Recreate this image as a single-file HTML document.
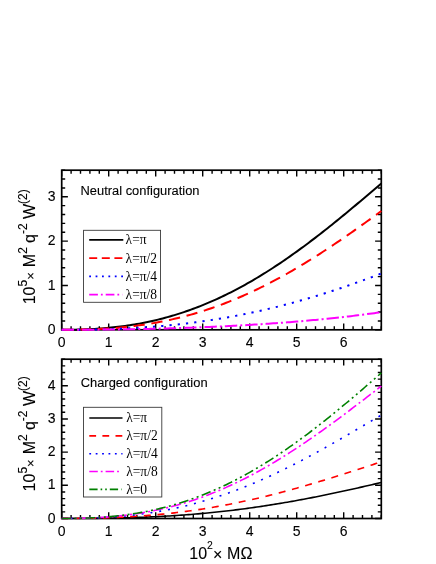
<!DOCTYPE html>
<html><head><meta charset="utf-8"><title>chart</title>
<style>
html,body{margin:0;padding:0;background:#fff;}
body{width:436px;height:564px;position:relative;overflow:hidden;font-family:"Liberation Sans",sans-serif;}
svg text{font-family:"Liberation Sans",sans-serif;fill:#000;}
svg text.tl{font-size:14px;stroke:#000;stroke-width:0.1px;}
svg text.ttl{font-size:13.3px;stroke:#000;stroke-width:0.12px;}
svg text.al{font-size:16px;stroke:#000;stroke-width:0.1px;}
svg text.lg{font-family:"Liberation Serif",serif;font-size:14px;}
</style></head><body>
<svg width="436" height="564" viewBox="0 0 436 564" style="position:absolute;left:0;top:0;will-change:transform">
<defs><clipPath id="c0"><rect x="60.80" y="169.30" width="321.40" height="161.60"/></clipPath></defs>
<path d="M61.70 329.80v-6.20M61.70 170.20v6.20M71.10 329.80v-3.50M71.10 170.20v3.50M80.50 329.80v-3.50M80.50 170.20v3.50M89.90 329.80v-3.50M89.90 170.20v3.50M99.30 329.80v-3.50M99.30 170.20v3.50M108.70 329.80v-6.20M108.70 170.20v6.20M118.10 329.80v-3.50M118.10 170.20v3.50M127.50 329.80v-3.50M127.50 170.20v3.50M136.90 329.80v-3.50M136.90 170.20v3.50M146.30 329.80v-3.50M146.30 170.20v3.50M155.70 329.80v-6.20M155.70 170.20v6.20M165.10 329.80v-3.50M165.10 170.20v3.50M174.50 329.80v-3.50M174.50 170.20v3.50M183.90 329.80v-3.50M183.90 170.20v3.50M193.30 329.80v-3.50M193.30 170.20v3.50M202.70 329.80v-6.20M202.70 170.20v6.20M212.10 329.80v-3.50M212.10 170.20v3.50M221.50 329.80v-3.50M221.50 170.20v3.50M230.90 329.80v-3.50M230.90 170.20v3.50M240.30 329.80v-3.50M240.30 170.20v3.50M249.70 329.80v-6.20M249.70 170.20v6.20M259.10 329.80v-3.50M259.10 170.20v3.50M268.50 329.80v-3.50M268.50 170.20v3.50M277.90 329.80v-3.50M277.90 170.20v3.50M287.30 329.80v-3.50M287.30 170.20v3.50M296.70 329.80v-6.20M296.70 170.20v6.20M306.10 329.80v-3.50M306.10 170.20v3.50M315.50 329.80v-3.50M315.50 170.20v3.50M324.90 329.80v-3.50M324.90 170.20v3.50M334.30 329.80v-3.50M334.30 170.20v3.50M343.70 329.80v-6.20M343.70 170.20v6.20M353.10 329.80v-3.50M353.10 170.20v3.50M362.50 329.80v-3.50M362.50 170.20v3.50M371.90 329.80v-3.50M371.90 170.20v3.50M381.30 329.80v-3.50M381.30 170.20v3.50M61.70 329.80h6.20M381.30 329.80h-6.20M61.70 320.93h3.50M381.30 320.93h-3.50M61.70 312.07h3.50M381.30 312.07h-3.50M61.70 303.20h3.50M381.30 303.20h-3.50M61.70 294.33h3.50M381.30 294.33h-3.50M61.70 285.47h6.20M381.30 285.47h-6.20M61.70 276.60h3.50M381.30 276.60h-3.50M61.70 267.73h3.50M381.30 267.73h-3.50M61.70 258.87h3.50M381.30 258.87h-3.50M61.70 250.00h3.50M381.30 250.00h-3.50M61.70 241.13h6.20M381.30 241.13h-6.20M61.70 232.27h3.50M381.30 232.27h-3.50M61.70 223.40h3.50M381.30 223.40h-3.50M61.70 214.53h3.50M381.30 214.53h-3.50M61.70 205.67h3.50M381.30 205.67h-3.50M61.70 196.80h6.20M381.30 196.80h-6.20M61.70 187.93h3.50M381.30 187.93h-3.50M61.70 179.07h3.50M381.30 179.07h-3.50M61.70 170.20h3.50M381.30 170.20h-3.50" stroke="#000" stroke-width="1.40" fill="none"/>
<rect x="61.70" y="170.20" width="319.60" height="159.60" fill="none" stroke="#000" stroke-width="1.70"/>
<g clip-path="url(#c0)" fill="none" stroke-linejoin="round">
<polyline points="61.70,329.80 64.05,329.80 66.40,329.78 68.75,329.77 71.10,329.74 73.45,329.70 75.80,329.65 78.15,329.60 80.50,329.53 82.85,329.45 85.20,329.37 87.55,329.27 89.90,329.16 92.25,329.03 94.60,328.90 96.95,328.75 99.30,328.59 101.65,328.42 104.00,328.23 106.35,328.03 108.70,327.81 111.05,327.59 113.40,327.34 115.75,327.08 118.10,326.81 120.45,326.52 122.80,326.21 125.15,325.89 127.50,325.56 129.85,325.20 132.20,324.83 134.55,324.44 136.90,324.04 139.25,323.62 141.60,323.18 143.95,322.72 146.30,322.25 148.65,321.76 151.00,321.24 153.35,320.72 155.70,320.17 158.05,319.60 160.40,319.02 162.75,318.41 165.10,317.79 167.45,317.15 169.80,316.48 172.15,315.80 174.50,315.10 176.85,314.38 179.20,313.64 181.55,312.88 183.90,312.10 186.25,311.30 188.60,310.48 190.95,309.64 193.30,308.78 195.65,307.90 198.00,307.00 200.35,306.08 202.70,305.14 205.05,304.18 207.40,303.20 209.75,302.20 212.10,301.18 214.45,300.14 216.80,299.08 219.15,297.99 221.50,296.89 223.85,295.77 226.20,294.63 228.55,293.47 230.90,292.28 233.25,291.08 235.60,289.86 237.95,288.62 240.30,287.36 242.65,286.08 245.00,284.78 247.35,283.46 249.70,282.12 252.05,280.77 254.40,279.39 256.75,278.00 259.10,276.58 261.45,275.15 263.80,273.70 266.15,272.23 268.50,270.75 270.85,269.24 273.20,267.72 275.55,266.18 277.90,264.63 280.25,263.05 282.60,261.46 284.95,259.86 287.30,258.24 289.65,256.60 292.00,254.94 294.35,253.27 296.70,251.59 299.05,249.89 301.40,248.17 303.75,246.44 306.10,244.70 308.45,242.94 310.80,241.17 313.15,239.38 315.50,237.59 317.85,235.78 320.20,233.95 322.55,232.12 324.90,230.27 327.25,228.41 329.60,226.54 331.95,224.66 334.30,222.77 336.65,220.87 339.00,218.96 341.35,217.04 343.70,215.12 346.05,213.18 348.40,211.24 350.75,209.28 353.10,207.33 355.45,205.36 357.80,203.39 360.15,201.41 362.50,199.43 364.85,197.44 367.20,195.45 369.55,193.45 371.90,191.45 374.25,189.45 376.60,187.44 378.95,185.43 381.30,183.43" stroke="#000000" stroke-width="2.00"/>
<polyline points="61.70,329.80 64.05,329.80 66.40,329.79 68.75,329.78 71.10,329.76 73.45,329.73 75.80,329.70 78.15,329.66 80.50,329.62 82.85,329.57 85.20,329.51 87.55,329.44 89.90,329.36 92.25,329.28 94.60,329.18 96.95,329.08 99.30,328.96 101.65,328.84 104.00,328.71 106.35,328.56 108.70,328.41 111.05,328.24 113.40,328.07 115.75,327.88 118.10,327.68 120.45,327.47 122.80,327.24 125.15,327.00 127.50,326.76 129.85,326.49 132.20,326.22 134.55,325.93 136.90,325.63 139.25,325.31 141.60,324.99 143.95,324.64 146.30,324.28 148.65,323.91 151.00,323.53 153.35,323.13 155.70,322.71 158.05,322.28 160.40,321.83 162.75,321.37 165.10,320.90 167.45,320.41 169.80,319.90 172.15,319.37 174.50,318.83 176.85,318.28 179.20,317.71 181.55,317.12 183.90,316.52 186.25,315.90 188.60,315.26 190.95,314.61 193.30,313.94 195.65,313.25 198.00,312.55 200.35,311.83 202.70,311.09 205.05,310.34 207.40,309.57 209.75,308.78 212.10,307.98 214.45,307.16 216.80,306.32 219.15,305.47 221.50,304.60 223.85,303.71 226.20,302.80 228.55,301.88 230.90,300.94 233.25,299.99 235.60,299.01 237.95,298.02 240.30,297.02 242.65,296.00 245.00,294.96 247.35,293.90 249.70,292.83 252.05,291.74 254.40,290.63 256.75,289.51 259.10,288.37 261.45,287.22 263.80,286.05 266.15,284.87 268.50,283.66 270.85,282.45 273.20,281.22 275.55,279.97 277.90,278.70 280.25,277.43 282.60,276.13 284.95,274.83 287.30,273.50 289.65,272.17 292.00,270.81 294.35,269.45 296.70,268.07 299.05,266.68 301.40,265.27 303.75,263.85 306.10,262.41 308.45,260.97 310.80,259.51 313.15,258.04 315.50,256.55 317.85,255.06 320.20,253.55 322.55,252.03 324.90,250.50 327.25,248.95 329.60,247.40 331.95,245.83 334.30,244.26 336.65,242.68 339.00,241.08 341.35,239.48 343.70,237.86 346.05,236.24 348.40,234.61 350.75,232.97 353.10,231.32 355.45,229.67 357.80,228.00 360.15,226.33 362.50,224.66 364.85,222.97 367.20,221.29 369.55,219.59 371.90,217.89 374.25,216.18 376.60,214.47 378.95,212.76 381.30,211.04" stroke="#ff0000" stroke-width="2.00" stroke-dasharray="11.3 6.7"/>
<polyline points="61.70,329.80 64.05,329.80 66.40,329.79 68.75,329.79 71.10,329.78 73.45,329.77 75.80,329.75 78.15,329.73 80.50,329.71 82.85,329.68 85.20,329.65 87.55,329.62 89.90,329.58 92.25,329.54 94.60,329.49 96.95,329.44 99.30,329.39 101.65,329.33 104.00,329.26 106.35,329.20 108.70,329.12 111.05,329.04 113.40,328.96 115.75,328.87 118.10,328.78 120.45,328.68 122.80,328.58 125.15,328.47 127.50,328.35 129.85,328.23 132.20,328.11 134.55,327.98 136.90,327.84 139.25,327.69 141.60,327.54 143.95,327.39 146.30,327.23 148.65,327.06 151.00,326.88 153.35,326.70 155.70,326.51 158.05,326.32 160.40,326.12 162.75,325.91 165.10,325.70 167.45,325.47 169.80,325.25 172.15,325.01 174.50,324.77 176.85,324.52 179.20,324.26 181.55,324.00 183.90,323.73 186.25,323.45 188.60,323.17 190.95,322.87 193.30,322.57 195.65,322.27 198.00,321.95 200.35,321.63 202.70,321.30 205.05,320.96 207.40,320.62 209.75,320.26 212.10,319.90 214.45,319.53 216.80,319.16 219.15,318.77 221.50,318.38 223.85,317.98 226.20,317.58 228.55,317.16 230.90,316.74 233.25,316.31 235.60,315.87 237.95,315.42 240.30,314.96 242.65,314.50 245.00,314.03 247.35,313.55 249.70,313.06 252.05,312.57 254.40,312.07 256.75,311.56 259.10,311.04 261.45,310.51 263.80,309.97 266.15,309.43 268.50,308.88 270.85,308.32 273.20,307.75 275.55,307.18 277.90,306.59 280.25,306.00 282.60,305.40 284.95,304.80 287.30,304.18 289.65,303.56 292.00,302.93 294.35,302.29 296.70,301.64 299.05,300.99 301.40,300.33 303.75,299.66 306.10,298.98 308.45,298.30 310.80,297.60 313.15,296.90 315.50,296.20 317.85,295.48 320.20,294.76 322.55,294.03 324.90,293.29 327.25,292.55 329.60,291.79 331.95,291.03 334.30,290.27 336.65,289.49 339.00,288.71 341.35,287.93 343.70,287.13 346.05,286.33 348.40,285.52 350.75,284.71 353.10,283.88 355.45,283.05 357.80,282.22 360.15,281.38 362.50,280.53 364.85,279.67 367.20,278.81 369.55,277.95 371.90,277.07 374.25,276.19 376.60,275.31 378.95,274.42 381.30,273.52" stroke="#0000ff" stroke-width="2.00" stroke-dasharray="2.2 6.1"/>
<polyline points="61.70,329.80 64.05,329.80 66.40,329.80 68.75,329.79 71.10,329.79 73.45,329.78 75.80,329.78 78.15,329.77 80.50,329.76 82.85,329.75 85.20,329.74 87.55,329.72 89.90,329.71 92.25,329.69 94.60,329.67 96.95,329.65 99.30,329.63 101.65,329.61 104.00,329.59 106.35,329.57 108.70,329.54 111.05,329.51 113.40,329.48 115.75,329.45 118.10,329.42 120.45,329.39 122.80,329.35 125.15,329.32 127.50,329.28 129.85,329.24 132.20,329.20 134.55,329.16 136.90,329.12 139.25,329.07 141.60,329.03 143.95,328.98 146.30,328.93 148.65,328.88 151.00,328.82 153.35,328.77 155.70,328.71 158.05,328.65 160.40,328.59 162.75,328.53 165.10,328.47 167.45,328.41 169.80,328.34 172.15,328.27 174.50,328.20 176.85,328.13 179.20,328.06 181.55,327.98 183.90,327.90 186.25,327.82 188.60,327.74 190.95,327.66 193.30,327.57 195.65,327.49 198.00,327.40 200.35,327.31 202.70,327.21 205.05,327.12 207.40,327.02 209.75,326.92 212.10,326.82 214.45,326.72 216.80,326.61 219.15,326.50 221.50,326.39 223.85,326.28 226.20,326.17 228.55,326.05 230.90,325.93 233.25,325.81 235.60,325.69 237.95,325.56 240.30,325.43 242.65,325.30 245.00,325.17 247.35,325.03 249.70,324.89 252.05,324.75 254.40,324.61 256.75,324.46 259.10,324.31 261.45,324.16 263.80,324.01 266.15,323.85 268.50,323.69 270.85,323.53 273.20,323.37 275.55,323.20 277.90,323.03 280.25,322.85 282.60,322.68 284.95,322.50 287.30,322.32 289.65,322.13 292.00,321.94 294.35,321.75 296.70,321.56 299.05,321.36 301.40,321.16 303.75,320.95 306.10,320.75 308.45,320.54 310.80,320.32 313.15,320.10 315.50,319.88 317.85,319.66 320.20,319.43 322.55,319.20 324.90,318.97 327.25,318.73 329.60,318.49 331.95,318.24 334.30,317.99 336.65,317.74 339.00,317.48 341.35,317.22 343.70,316.96 346.05,316.69 348.40,316.42 350.75,316.15 353.10,315.87 355.45,315.58 357.80,315.29 360.15,315.00 362.50,314.71 364.85,314.41 367.20,314.10 369.55,313.79 371.90,313.48 374.25,313.16 376.60,312.84 378.95,312.52 381.30,312.19" stroke="#ff00ff" stroke-width="2.00" stroke-dasharray="12.4 3 2 3"/>
</g>
<text x="61.70" y="346.80" class="tl" text-anchor="middle">0</text>
<text x="108.70" y="346.80" class="tl" text-anchor="middle">1</text>
<text x="155.70" y="346.80" class="tl" text-anchor="middle">2</text>
<text x="202.70" y="346.80" class="tl" text-anchor="middle">3</text>
<text x="249.70" y="346.80" class="tl" text-anchor="middle">4</text>
<text x="296.70" y="346.80" class="tl" text-anchor="middle">5</text>
<text x="343.70" y="346.80" class="tl" text-anchor="middle">6</text>
<text x="55.6" y="333.90" class="tl" text-anchor="end">0</text>
<text x="55.6" y="289.57" class="tl" text-anchor="end">1</text>
<text x="55.6" y="245.23" class="tl" text-anchor="end">2</text>
<text x="55.6" y="200.90" class="tl" text-anchor="end">3</text>
<defs><clipPath id="c1"><rect x="60.80" y="358.30" width="321.40" height="161.30"/></clipPath></defs>
<path d="M61.70 518.50v-6.20M61.70 359.20v6.20M71.10 518.50v-3.50M71.10 359.20v3.50M80.50 518.50v-3.50M80.50 359.20v3.50M89.90 518.50v-3.50M89.90 359.20v3.50M99.30 518.50v-3.50M99.30 359.20v3.50M108.70 518.50v-6.20M108.70 359.20v6.20M118.10 518.50v-3.50M118.10 359.20v3.50M127.50 518.50v-3.50M127.50 359.20v3.50M136.90 518.50v-3.50M136.90 359.20v3.50M146.30 518.50v-3.50M146.30 359.20v3.50M155.70 518.50v-6.20M155.70 359.20v6.20M165.10 518.50v-3.50M165.10 359.20v3.50M174.50 518.50v-3.50M174.50 359.20v3.50M183.90 518.50v-3.50M183.90 359.20v3.50M193.30 518.50v-3.50M193.30 359.20v3.50M202.70 518.50v-6.20M202.70 359.20v6.20M212.10 518.50v-3.50M212.10 359.20v3.50M221.50 518.50v-3.50M221.50 359.20v3.50M230.90 518.50v-3.50M230.90 359.20v3.50M240.30 518.50v-3.50M240.30 359.20v3.50M249.70 518.50v-6.20M249.70 359.20v6.20M259.10 518.50v-3.50M259.10 359.20v3.50M268.50 518.50v-3.50M268.50 359.20v3.50M277.90 518.50v-3.50M277.90 359.20v3.50M287.30 518.50v-3.50M287.30 359.20v3.50M296.70 518.50v-6.20M296.70 359.20v6.20M306.10 518.50v-3.50M306.10 359.20v3.50M315.50 518.50v-3.50M315.50 359.20v3.50M324.90 518.50v-3.50M324.90 359.20v3.50M334.30 518.50v-3.50M334.30 359.20v3.50M343.70 518.50v-6.20M343.70 359.20v6.20M353.10 518.50v-3.50M353.10 359.20v3.50M362.50 518.50v-3.50M362.50 359.20v3.50M371.90 518.50v-3.50M371.90 359.20v3.50M381.30 518.50v-3.50M381.30 359.20v3.50M61.70 518.50h6.20M381.30 518.50h-6.20M61.70 511.86h3.50M381.30 511.86h-3.50M61.70 505.23h3.50M381.30 505.23h-3.50M61.70 498.59h3.50M381.30 498.59h-3.50M61.70 491.95h3.50M381.30 491.95h-3.50M61.70 485.31h6.20M381.30 485.31h-6.20M61.70 478.67h3.50M381.30 478.67h-3.50M61.70 472.04h3.50M381.30 472.04h-3.50M61.70 465.40h3.50M381.30 465.40h-3.50M61.70 458.76h3.50M381.30 458.76h-3.50M61.70 452.12h6.20M381.30 452.12h-6.20M61.70 445.49h3.50M381.30 445.49h-3.50M61.70 438.85h3.50M381.30 438.85h-3.50M61.70 432.21h3.50M381.30 432.21h-3.50M61.70 425.57h3.50M381.30 425.57h-3.50M61.70 418.94h6.20M381.30 418.94h-6.20M61.70 412.30h3.50M381.30 412.30h-3.50M61.70 405.66h3.50M381.30 405.66h-3.50M61.70 399.02h3.50M381.30 399.02h-3.50M61.70 392.39h3.50M381.30 392.39h-3.50M61.70 385.75h6.20M381.30 385.75h-6.20M61.70 379.11h3.50M381.30 379.11h-3.50M61.70 372.47h3.50M381.30 372.47h-3.50M61.70 365.84h3.50M381.30 365.84h-3.50M61.70 359.20h3.50M381.30 359.20h-3.50" stroke="#000" stroke-width="1.40" fill="none"/>
<rect x="61.70" y="359.20" width="319.60" height="159.30" fill="none" stroke="#000" stroke-width="1.70"/>
<g clip-path="url(#c1)" fill="none" stroke-linejoin="round">
<polyline points="61.70,518.50 64.05,518.50 66.40,518.50 68.75,518.50 71.10,518.49 73.45,518.49 75.80,518.48 78.15,518.47 80.50,518.47 82.85,518.45 85.20,518.44 87.55,518.43 89.90,518.41 92.25,518.39 94.60,518.37 96.95,518.35 99.30,518.32 101.65,518.29 104.00,518.26 106.35,518.23 108.70,518.19 111.05,518.15 113.40,518.11 115.75,518.06 118.10,518.01 120.45,517.96 122.80,517.90 125.15,517.84 127.50,517.78 129.85,517.71 132.20,517.64 134.55,517.56 136.90,517.48 139.25,517.40 141.60,517.31 143.95,517.22 146.30,517.13 148.65,517.03 151.00,516.92 153.35,516.81 155.70,516.70 158.05,516.58 160.40,516.46 162.75,516.33 165.10,516.20 167.45,516.07 169.80,515.93 172.15,515.78 174.50,515.63 176.85,515.47 179.20,515.31 181.55,515.15 183.90,514.98 186.25,514.80 188.60,514.62 190.95,514.43 193.30,514.24 195.65,514.05 198.00,513.84 200.35,513.64 202.70,513.42 205.05,513.21 207.40,512.98 209.75,512.76 212.10,512.52 214.45,512.28 216.80,512.04 219.15,511.79 221.50,511.53 223.85,511.27 226.20,511.00 228.55,510.73 230.90,510.45 233.25,510.17 235.60,509.88 237.95,509.59 240.30,509.29 242.65,508.98 245.00,508.67 247.35,508.36 249.70,508.03 252.05,507.71 254.40,507.38 256.75,507.04 259.10,506.69 261.45,506.35 263.80,505.99 266.15,505.63 268.50,505.27 270.85,504.90 273.20,504.52 275.55,504.14 277.90,503.76 280.25,503.37 282.60,502.97 284.95,502.57 287.30,502.17 289.65,501.76 292.00,501.34 294.35,500.92 296.70,500.49 299.05,500.06 301.40,499.63 303.75,499.19 306.10,498.75 308.45,498.30 310.80,497.84 313.15,497.39 315.50,496.92 317.85,496.46 320.20,495.99 322.55,495.51 324.90,495.03 327.25,494.55 329.60,494.06 331.95,493.57 334.30,493.07 336.65,492.58 339.00,492.07 341.35,491.57 343.70,491.06 346.05,490.54 348.40,490.03 350.75,489.51 353.10,488.98 355.45,488.46 357.80,487.93 360.15,487.40 362.50,486.86 364.85,486.32 367.20,485.78 369.55,485.24 371.90,484.70 374.25,484.15 376.60,483.60 378.95,483.05 381.30,482.49" stroke="#000000" stroke-width="1.60"/>
<polyline points="61.70,518.50 64.05,518.50 66.40,518.49 68.75,518.49 71.10,518.48 73.45,518.46 75.80,518.44 78.15,518.42 80.50,518.40 82.85,518.37 85.20,518.34 87.55,518.30 89.90,518.26 92.25,518.21 94.60,518.16 96.95,518.10 99.30,518.04 101.65,517.98 104.00,517.90 106.35,517.83 108.70,517.74 111.05,517.66 113.40,517.56 115.75,517.46 118.10,517.36 120.45,517.25 122.80,517.13 125.15,517.01 127.50,516.88 129.85,516.74 132.20,516.60 134.55,516.45 136.90,516.29 139.25,516.13 141.60,515.96 143.95,515.78 146.30,515.60 148.65,515.41 151.00,515.21 153.35,515.01 155.70,514.80 158.05,514.58 160.40,514.35 162.75,514.12 165.10,513.88 167.45,513.63 169.80,513.37 172.15,513.11 174.50,512.84 176.85,512.56 179.20,512.27 181.55,511.97 183.90,511.67 186.25,511.36 188.60,511.04 190.95,510.72 193.30,510.38 195.65,510.04 198.00,509.69 200.35,509.34 202.70,508.97 205.05,508.60 207.40,508.22 209.75,507.83 212.10,507.43 214.45,507.02 216.80,506.61 219.15,506.19 221.50,505.76 223.85,505.33 226.20,504.88 228.55,504.43 230.90,503.97 233.25,503.50 235.60,503.03 237.95,502.55 240.30,502.06 242.65,501.56 245.00,501.05 247.35,500.54 249.70,500.02 252.05,499.49 254.40,498.96 256.75,498.42 259.10,497.87 261.45,497.31 263.80,496.75 266.15,496.18 268.50,495.60 270.85,495.01 273.20,494.42 275.55,493.83 277.90,493.22 280.25,492.61 282.60,491.99 284.95,491.37 287.30,490.74 289.65,490.10 292.00,489.46 294.35,488.81 296.70,488.16 299.05,487.50 301.40,486.83 303.75,486.16 306.10,485.48 308.45,484.80 310.80,484.12 313.15,483.42 315.50,482.73 317.85,482.02 320.20,481.32 322.55,480.61 324.90,479.89 327.25,479.17 329.60,478.45 331.95,477.72 334.30,476.99 336.65,476.25 339.00,475.52 341.35,474.77 343.70,474.03 346.05,473.28 348.40,472.53 350.75,471.78 353.10,471.02 355.45,470.26 357.80,469.50 360.15,468.74 362.50,467.98 364.85,467.21 367.20,466.44 369.55,465.67 371.90,464.90 374.25,464.13 376.60,463.36 378.95,462.59 381.30,461.82" stroke="#ff0000" stroke-width="1.60" stroke-dasharray="7 6.7"/>
<polyline points="61.70,518.50 64.05,518.50 66.40,518.49 68.75,518.48 71.10,518.46 73.45,518.44 75.80,518.41 78.15,518.37 80.50,518.33 82.85,518.28 85.20,518.23 87.55,518.16 89.90,518.09 92.25,518.01 94.60,517.93 96.95,517.83 99.30,517.72 101.65,517.61 104.00,517.49 106.35,517.35 108.70,517.21 111.05,517.06 113.40,516.89 115.75,516.72 118.10,516.53 120.45,516.34 122.80,516.13 125.15,515.91 127.50,515.68 129.85,515.44 132.20,515.19 134.55,514.92 136.90,514.64 139.25,514.35 141.60,514.05 143.95,513.73 146.30,513.40 148.65,513.06 151.00,512.70 153.35,512.33 155.70,511.95 158.05,511.55 160.40,511.14 162.75,510.72 165.10,510.28 167.45,509.83 169.80,509.37 172.15,508.89 174.50,508.39 176.85,507.88 179.20,507.36 181.55,506.82 183.90,506.27 186.25,505.71 188.60,505.12 190.95,504.53 193.30,503.92 195.65,503.29 198.00,502.65 200.35,502.00 202.70,501.33 205.05,500.65 207.40,499.95 209.75,499.23 212.10,498.50 214.45,497.76 216.80,497.00 219.15,496.23 221.50,495.44 223.85,494.64 226.20,493.82 228.55,492.99 230.90,492.15 233.25,491.29 235.60,490.41 237.95,489.52 240.30,488.62 242.65,487.71 245.00,486.77 247.35,485.83 249.70,484.87 252.05,483.90 254.40,482.91 256.75,481.92 259.10,480.90 261.45,479.88 263.80,478.84 266.15,477.79 268.50,476.72 270.85,475.65 273.20,474.56 275.55,473.46 277.90,472.34 280.25,471.22 282.60,470.08 284.95,468.93 287.30,467.77 289.65,466.60 292.00,465.42 294.35,464.23 296.70,463.02 299.05,461.81 301.40,460.59 303.75,459.35 306.10,458.11 308.45,456.86 310.80,455.60 313.15,454.33 315.50,453.05 317.85,451.76 320.20,450.47 322.55,449.17 324.90,447.86 327.25,446.54 329.60,445.21 331.95,443.88 334.30,442.55 336.65,441.21 339.00,439.86 341.35,438.51 343.70,437.15 346.05,435.79 348.40,434.42 350.75,433.05 353.10,431.67 355.45,430.30 357.80,428.92 360.15,427.53 362.50,426.15 364.85,424.76 367.20,423.38 369.55,421.99 371.90,420.60 374.25,419.21 376.60,417.82 378.95,416.44 381.30,415.05" stroke="#0000ff" stroke-width="1.60" stroke-dasharray="2 6.9"/>
<polyline points="61.70,518.50 64.05,518.50 66.40,518.49 68.75,518.47 71.10,518.45 73.45,518.42 75.80,518.39 78.15,518.35 80.50,518.29 82.85,518.23 85.20,518.16 87.55,518.09 89.90,518.00 92.25,517.90 94.60,517.79 96.95,517.67 99.30,517.54 101.65,517.40 104.00,517.24 106.35,517.08 108.70,516.90 111.05,516.71 113.40,516.50 115.75,516.28 118.10,516.05 120.45,515.81 122.80,515.55 125.15,515.27 127.50,514.99 129.85,514.68 132.20,514.37 134.55,514.03 136.90,513.68 139.25,513.32 141.60,512.94 143.95,512.54 146.30,512.13 148.65,511.70 151.00,511.25 153.35,510.79 155.70,510.30 158.05,509.81 160.40,509.29 162.75,508.76 165.10,508.21 167.45,507.64 169.80,507.05 172.15,506.45 174.50,505.82 176.85,505.18 179.20,504.52 181.55,503.85 183.90,503.15 186.25,502.43 188.60,501.70 190.95,500.95 193.30,500.18 195.65,499.39 198.00,498.58 200.35,497.75 202.70,496.90 205.05,496.04 207.40,495.15 209.75,494.25 212.10,493.33 214.45,492.38 216.80,491.42 219.15,490.44 221.50,489.45 223.85,488.43 226.20,487.39 228.55,486.34 230.90,485.26 233.25,484.17 235.60,483.06 237.95,481.93 240.30,480.79 242.65,479.62 245.00,478.44 247.35,477.24 249.70,476.02 252.05,474.78 254.40,473.53 256.75,472.25 259.10,470.96 261.45,469.66 263.80,468.33 266.15,466.99 268.50,465.63 270.85,464.26 273.20,462.87 275.55,461.46 277.90,460.04 280.25,458.60 282.60,457.15 284.95,455.68 287.30,454.20 289.65,452.70 292.00,451.19 294.35,449.66 296.70,448.12 299.05,446.56 301.40,444.99 303.75,443.41 306.10,441.82 308.45,440.21 310.80,438.59 313.15,436.96 315.50,435.32 317.85,433.66 320.20,432.00 322.55,430.32 324.90,428.63 327.25,426.94 329.60,425.23 331.95,423.52 334.30,421.79 336.65,420.06 339.00,418.32 341.35,416.57 343.70,414.82 346.05,413.06 348.40,411.29 350.75,409.51 353.10,407.73 355.45,405.95 357.80,404.16 360.15,402.36 362.50,400.57 364.85,398.76 367.20,396.96 369.55,395.15 371.90,393.35 374.25,391.54 376.60,389.73 378.95,387.92 381.30,386.10" stroke="#ff00ff" stroke-width="1.60" stroke-dasharray="10 3.2 2 3.2"/>
<polyline points="61.70,518.50 64.05,518.50 66.40,518.49 68.75,518.47 71.10,518.45 73.45,518.41 75.80,518.37 78.15,518.32 80.50,518.26 82.85,518.19 85.20,518.12 87.55,518.03 89.90,517.93 92.25,517.82 94.60,517.69 96.95,517.56 99.30,517.41 101.65,517.26 104.00,517.08 106.35,516.90 108.70,516.70 111.05,516.49 113.40,516.26 115.75,516.02 118.10,515.77 120.45,515.50 122.80,515.22 125.15,514.91 127.50,514.60 129.85,514.27 132.20,513.92 134.55,513.55 136.90,513.17 139.25,512.77 141.60,512.36 143.95,511.92 146.30,511.47 148.65,511.00 151.00,510.52 153.35,510.01 155.70,509.49 158.05,508.95 160.40,508.39 162.75,507.81 165.10,507.21 167.45,506.59 169.80,505.96 172.15,505.30 174.50,504.63 176.85,503.93 179.20,503.22 181.55,502.48 183.90,501.73 186.25,500.95 188.60,500.16 190.95,499.34 193.30,498.51 195.65,497.65 198.00,496.78 200.35,495.88 202.70,494.97 205.05,494.03 207.40,493.07 209.75,492.09 212.10,491.10 214.45,490.08 216.80,489.04 219.15,487.98 221.50,486.90 223.85,485.79 226.20,484.67 228.55,483.53 230.90,482.37 233.25,481.19 235.60,479.98 237.95,478.76 240.30,477.52 242.65,476.25 245.00,474.97 247.35,473.67 249.70,472.34 252.05,471.00 254.40,469.64 256.75,468.26 259.10,466.86 261.45,465.44 263.80,464.00 266.15,462.54 268.50,461.06 270.85,459.57 273.20,458.05 275.55,456.52 277.90,454.97 280.25,453.40 282.60,451.82 284.95,450.22 287.30,448.59 289.65,446.96 292.00,445.30 294.35,443.63 296.70,441.95 299.05,440.24 301.40,438.52 303.75,436.79 306.10,435.04 308.45,433.28 310.80,431.50 313.15,429.70 315.50,427.89 317.85,426.07 320.20,424.24 322.55,422.39 324.90,420.53 327.25,418.65 329.60,416.76 331.95,414.87 334.30,412.96 336.65,411.03 339.00,409.10 341.35,407.16 343.70,405.21 346.05,403.24 348.40,401.27 350.75,399.29 353.10,397.30 355.45,395.30 357.80,393.30 360.15,391.29 362.50,389.27 364.85,387.24 367.20,385.21 369.55,383.17 371.90,381.13 374.25,379.08 376.60,377.03 378.95,374.98 381.30,372.92" stroke="#008000" stroke-width="1.60" stroke-dasharray="9.6 3.4 2 3.4 2 3.4"/>
</g>
<text x="61.70" y="535.50" class="tl" text-anchor="middle">0</text>
<text x="108.70" y="535.50" class="tl" text-anchor="middle">1</text>
<text x="155.70" y="535.50" class="tl" text-anchor="middle">2</text>
<text x="202.70" y="535.50" class="tl" text-anchor="middle">3</text>
<text x="249.70" y="535.50" class="tl" text-anchor="middle">4</text>
<text x="296.70" y="535.50" class="tl" text-anchor="middle">5</text>
<text x="343.70" y="535.50" class="tl" text-anchor="middle">6</text>
<text x="55.6" y="522.60" class="tl" text-anchor="end">0</text>
<text x="55.6" y="489.41" class="tl" text-anchor="end">1</text>
<text x="55.6" y="456.23" class="tl" text-anchor="end">2</text>
<text x="55.6" y="423.04" class="tl" text-anchor="end">3</text>
<text x="55.6" y="389.85" class="tl" text-anchor="end">4</text>
<rect x="83.55" y="230.30" width="77.00" height="72.00" fill="#fff" stroke="#3a3a3a" stroke-width="0.9"/>
<line x1="89.20" y1="239.90" x2="123.30" y2="239.90" stroke="#000" stroke-width="1.80"/>
<text transform="translate(125.60 244.30) scale(0.965 1)" class="lg">λ=π</text>
<line x1="89.20" y1="258.15" x2="123.30" y2="258.15" stroke="#ff0000" stroke-width="1.80" stroke-dasharray="8 4.6"/>
<text transform="translate(125.60 262.55) scale(0.965 1)" class="lg">λ=π/2</text>
<line x1="89.20" y1="276.40" x2="123.30" y2="276.40" stroke="#0000ff" stroke-width="1.80" stroke-dasharray="1.8 4.6"/>
<text transform="translate(125.60 280.80) scale(0.965 1)" class="lg">λ=π/4</text>
<line x1="89.20" y1="294.65" x2="122.40" y2="294.65" stroke="#ff00ff" stroke-width="1.80" stroke-dasharray="8.7 3 1.8 3"/>
<text transform="translate(125.60 299.05) scale(0.965 1)" class="lg">λ=π/8</text>
<rect x="83.50" y="407.30" width="78.30" height="89.70" fill="#fff" stroke="#3a3a3a" stroke-width="0.9"/>
<line x1="89.30" y1="418.00" x2="122.50" y2="418.00" stroke="#000" stroke-width="1.60"/>
<text transform="translate(126.20 422.40) scale(0.965 1)" class="lg">λ=π</text>
<line x1="89.30" y1="435.85" x2="122.50" y2="435.85" stroke="#ff0000" stroke-width="1.60" stroke-dasharray="6.8 6.3"/>
<text transform="translate(126.20 440.25) scale(0.965 1)" class="lg">λ=π/2</text>
<line x1="89.30" y1="453.70" x2="122.50" y2="453.70" stroke="#0000ff" stroke-width="1.60" stroke-dasharray="1.8 4.6"/>
<text transform="translate(126.20 458.10) scale(0.965 1)" class="lg">λ=π/4</text>
<line x1="89.30" y1="471.55" x2="121.60" y2="471.55" stroke="#ff00ff" stroke-width="1.60" stroke-dasharray="8.5 3 1.8 3"/>
<text transform="translate(126.20 475.95) scale(0.965 1)" class="lg">λ=π/8</text>
<line x1="89.30" y1="489.40" x2="121.60" y2="489.40" stroke="#008000" stroke-width="1.60" stroke-dasharray="8.3 3 1.6 3 1.6 3"/>
<text transform="translate(126.20 493.80) scale(0.965 1)" class="lg">λ=0</text>
<text transform="translate(80.5 195.2) scale(0.97 1)" class="ttl">Neutral configuration</text>
<text transform="translate(80.7 387.4) scale(0.97 1)" class="ttl">Charged configuration</text>
<text x="189.3" y="558.9" class="al">10<tspan dy="-10.1" font-size="10.4">2</tspan><tspan dy="10.9">×</tspan><tspan dy="-0.8" dx="0.3"> M</tspan><tspan dx="0.3">Ω</tspan></text>
<text transform="translate(34.60 304.30) rotate(-90)" class="al">10<tspan dy="-7.7" font-size="12">5</tspan><tspan dy="7.9" font-size="13">×</tspan><tspan dy="-0.2" dx="0.6" font-size="16"> M</tspan><tspan dy="-7.7" font-size="12">2</tspan><tspan dy="7.7" dx="-0.3"> q</tspan><tspan dy="-7.7" font-size="12">-2</tspan><tspan dy="7.7" dx="0"> W</tspan><tspan dy="-7.7" font-size="12">(2)</tspan></text>
<text transform="translate(34.60 491.40) rotate(-90)" class="al">10<tspan dy="-7.7" font-size="12">5</tspan><tspan dy="7.9" font-size="13">×</tspan><tspan dy="-0.2" dx="0.6" font-size="16"> M</tspan><tspan dy="-7.7" font-size="12">2</tspan><tspan dy="7.7" dx="-0.3"> q</tspan><tspan dy="-7.7" font-size="12">-2</tspan><tspan dy="7.7" dx="0"> W</tspan><tspan dy="-7.7" font-size="12">(2)</tspan></text>
</svg>
</body></html>
